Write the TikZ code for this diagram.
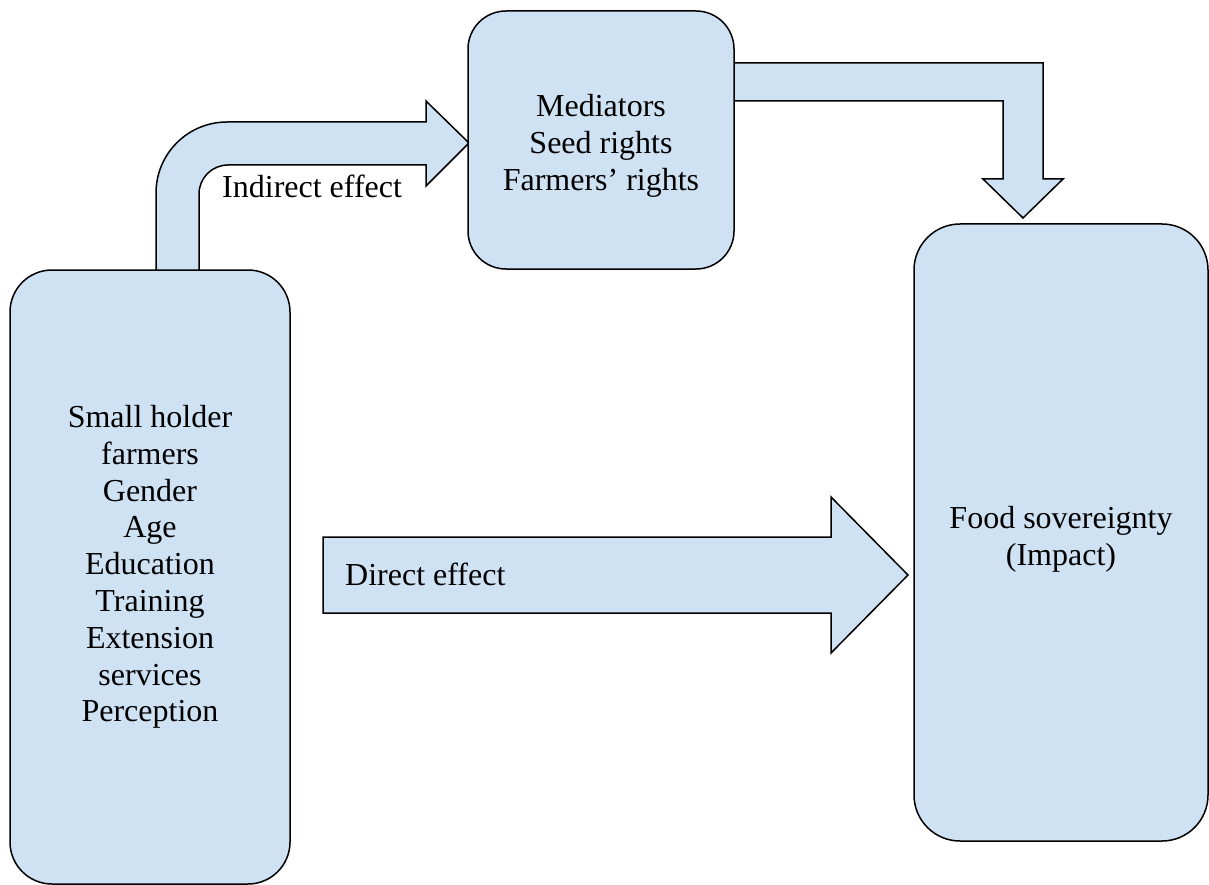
\documentclass[tikz,border=0pt]{standalone}
\usepackage{fontspec}
\setmainfont{Liberation Serif}
\definecolor{boxblue}{HTML}{CFE2F3}
\begin{document}
\begin{tikzpicture}[x=1pt,y=-1pt,
  box/.style={draw=black,fill=boxblue,line width=1.5pt,inner sep=0pt},
  blockarrow/.style={draw=black,fill=boxblue,line width=1.5pt,line join=miter},
  lbl/.style={font=\fontsize{32}{36.8}\selectfont,align=center,inner sep=0pt},
  free/.style={font=\fontsize{32}{36.8}\selectfont,inner sep=0pt,anchor=base west}]
\useasboundingbox (0,0) rectangle (1209,885);
% block arrows (shapes)
\draw[blockarrow] (156,271) -- (156,193)
  .. controls (156,153.8) and (187.8,122) .. (227,122)
  -- (426,122) -- (426,101) -- (469,143) -- (426,186) -- (426,165) -- (228,165)
  .. controls (212,165) and (199,178) .. (199,194)
  -- (199,271) -- cycle;
\draw[blockarrow] (734,63) -- (1043,63) -- (1043,179) -- (1063,179) -- (1023,218)
  -- (983,179) -- (1003,179) -- (1003,101) -- (734,101) -- cycle;
\draw[blockarrow] (323,537) -- (831,537) -- (831,497) -- (908,575) -- (831,653)
  -- (831,613) -- (323,613) -- cycle;
% boxes
\draw[box,rounded corners=42pt] (10,270) rectangle (290,884);
\draw[box,rounded corners=38pt] (468,11) rectangle (734,269);
\draw[box,rounded corners=46pt] (914,224) rectangle (1208,841);
% texts
\node[lbl] (sh) at (150,567) {Small holder\\farmers\\Gender\\Age\\Education\\Training\\Extension\\services\\Perception};
\node[lbl] (med) at (601,146) {Mediators\\Seed rights\\Farmers’ rights};
\node[lbl] (food) at (1061,539) {Food sovereignty\\(Impact)};
\node[free] (ind) at (222,198) {Indirect effect};
\node[free] (dir) at (345,585) {Direct effect};
\end{tikzpicture}
\end{document}
